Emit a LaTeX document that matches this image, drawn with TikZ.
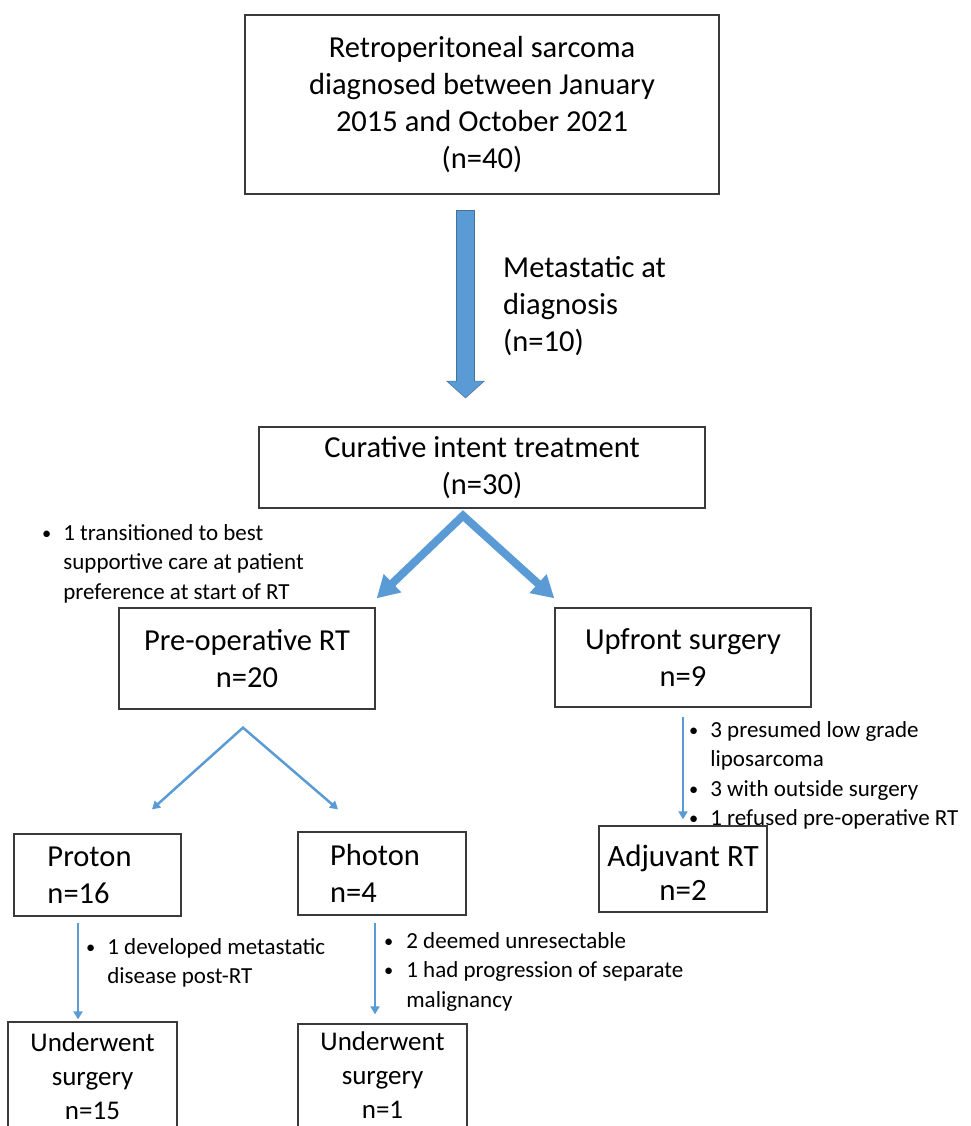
\documentclass[tikz,border=0pt]{standalone}
\usepackage{fontspec}
\setmainfont{Carlito}
\usetikzlibrary{arrows.meta,calc}
\definecolor{arrc}{HTML}{5B9BD5}
\definecolor{arrdark}{HTML}{41719C}
\definecolor{boxc}{HTML}{3A3A3A}
\newcommand\boxfont{\fontsize{30.5}{37}\selectfont}
\newcommand\smboxfont{\fontsize{27}{34}\selectfont}
\newcommand\notefont{\fontsize{23}{29.5}\selectfont}
\newcommand\bul{\raisebox{1pt}{\scalebox{0.8}{\textbullet}}}
\tikzset{
  box/.style={draw=boxc, line width=1.3pt, inner sep=0pt, align=center, font=\boxfont},
  note/.style={inner sep=0pt, anchor=base west, font=\notefont},
  bigarrow/.style={draw=arrc, line width=17pt, -{Triangle[width=35pt,length=16pt]}},
  bigarrowout/.style={draw=arrdark, line width=19pt, -{Triangle[width=38pt,length=17.5pt]}},
  varrow/.style={draw=arrc, line width=8pt, line join=miter, {Triangle[width=24pt,length=22pt]}-{Triangle[width=24pt,length=22pt]}},
  tharrow/.style={draw=arrc, line width=2.5pt, line join=miter, {Triangle[width=9pt,length=8pt]}-{Triangle[width=9pt,length=8pt]}},
  sarrow/.style={draw=arrc, line width=2.5pt, -{Triangle[width=9pt,length=8pt]}},
}
\begin{document}
\begin{tikzpicture}[x=1pt,y=-1pt]
\useasboundingbox (0,0) rectangle (970,1126);

\node[box, minimum width=474pt, minimum height=179pt] (top) at (482,104.5)
  {Retroperitoneal sarcoma\\diagnosed between January\\2015 and October 2021\\(n=40)};
\node[box, minimum width=446pt, minimum height=81pt] (cur) at (482,467.5)
  {Curative intent treatment\\(n=30)};
\node[box, minimum width=256pt, minimum height=101pt] (pre) at (247,658.5)
  {Pre-operative RT\\n=20};
\node[box, minimum width=256pt, minimum height=99pt] (up) at (683,657.5)
  {Upfront surgery\\n=9};
\node[box, align=left, minimum width=167pt, minimum height=82pt] (pro) at (97.5,875)
  {Proton\hspace*{16pt}\\n=16};
\node[box, align=left, minimum width=168pt, minimum height=83pt] (pho) at (382,873.5)
  {Photon\hspace*{14pt}\\n=4};
\node[box, font=\fontsize{31}{34}\selectfont, minimum width=168pt, minimum height=86pt] (adj) at (683,869)
  {\rule{0pt}{29pt}Adjuvant RT\\n=2};
\node[box, font=\smboxfont, minimum width=169pt, minimum height=114pt] (us1) at (92.5,1079)
  {Underwent\\surgery\\n=15\rule[-5pt]{0pt}{5pt}};
\node[box, font=\smboxfont, minimum width=169pt, minimum height=108pt] (us2) at (382.5,1078)
  {Underwent\\surgery\\n=1\rule[-5pt]{0pt}{5pt}};

% big arrow
\draw[bigarrowout] ([xshift=-16.5pt,yshift=-15pt]top.south) -- ([xshift=-16.5pt,yshift=28pt]cur.north);
\draw[bigarrow] ([xshift=-16.5pt,yshift=-16pt]top.south) -- ([xshift=-16.5pt,yshift=29pt]cur.north);
\node[inner sep=0pt, anchor=base west, font=\boxfont] (meta) at (503,277.5)
  {\begin{tabular}[t]{@{}l@{}}Metastatic at\\diagnosis\\(n=10)\end{tabular}};

% V arrows
\coordinate (apex1) at ([xshift=-19pt,yshift=-7pt]cur.south);
\draw[varrow] ([xshift=1pt,yshift=9pt]pre.north east) -- (apex1) -- ([yshift=9pt]up.north west);
\coordinate (apex2) at ([xshift=-4pt,yshift=-18pt]pre.south);
\draw[tharrow] ([xshift=54.5pt,yshift=24pt]pro.north) -- (apex2) -- ([xshift=-44pt,yshift=22pt]pho.north);

% vertical arrows
\draw[sarrow] ([yshift=-9pt]up.south) -- ([yshift=6pt]adj.north);
\draw[sarrow] ([xshift=-19.5pt,yshift=-6pt]pro.south) -- ([xshift=-14.5pt,yshift=2pt]us1.north);
\draw[sarrow] ([xshift=-7pt,yshift=-7pt]pho.south) -- ([xshift=-7.5pt,yshift=9pt]us2.north);

% notes
\node[note] (n1) at (42,540)
  {\begin{tabular}[t]{@{}l@{\hspace{12pt}}l@{}}\bul & 1 transitioned to best\\ & supportive care at patient\\ & preference at start of RT\end{tabular}};
\node[note] (n2) at (689,737)
  {\begin{tabular}[t]{@{}l@{\hspace{12pt}}l@{}}\bul & 3 presumed low grade\\ & liposarcoma\\ \bul & 3 with outside surgery\\ \bul & 1 refused pre-operative RT\end{tabular}};
\node[note] (n3) at (86,954)
  {\begin{tabular}[t]{@{}l@{\hspace{12pt}}l@{}}\bul & 1 developed metastatic\\ & disease post-RT\end{tabular}};
\node[note] (n4) at (384,948)
  {\begin{tabular}[t]{@{}l@{\hspace{13pt}}l@{}}\bul & 2 deemed unresectable\\ \bul & 1 had progression of separate\\ & malignancy\end{tabular}};
\end{tikzpicture}
\end{document}
